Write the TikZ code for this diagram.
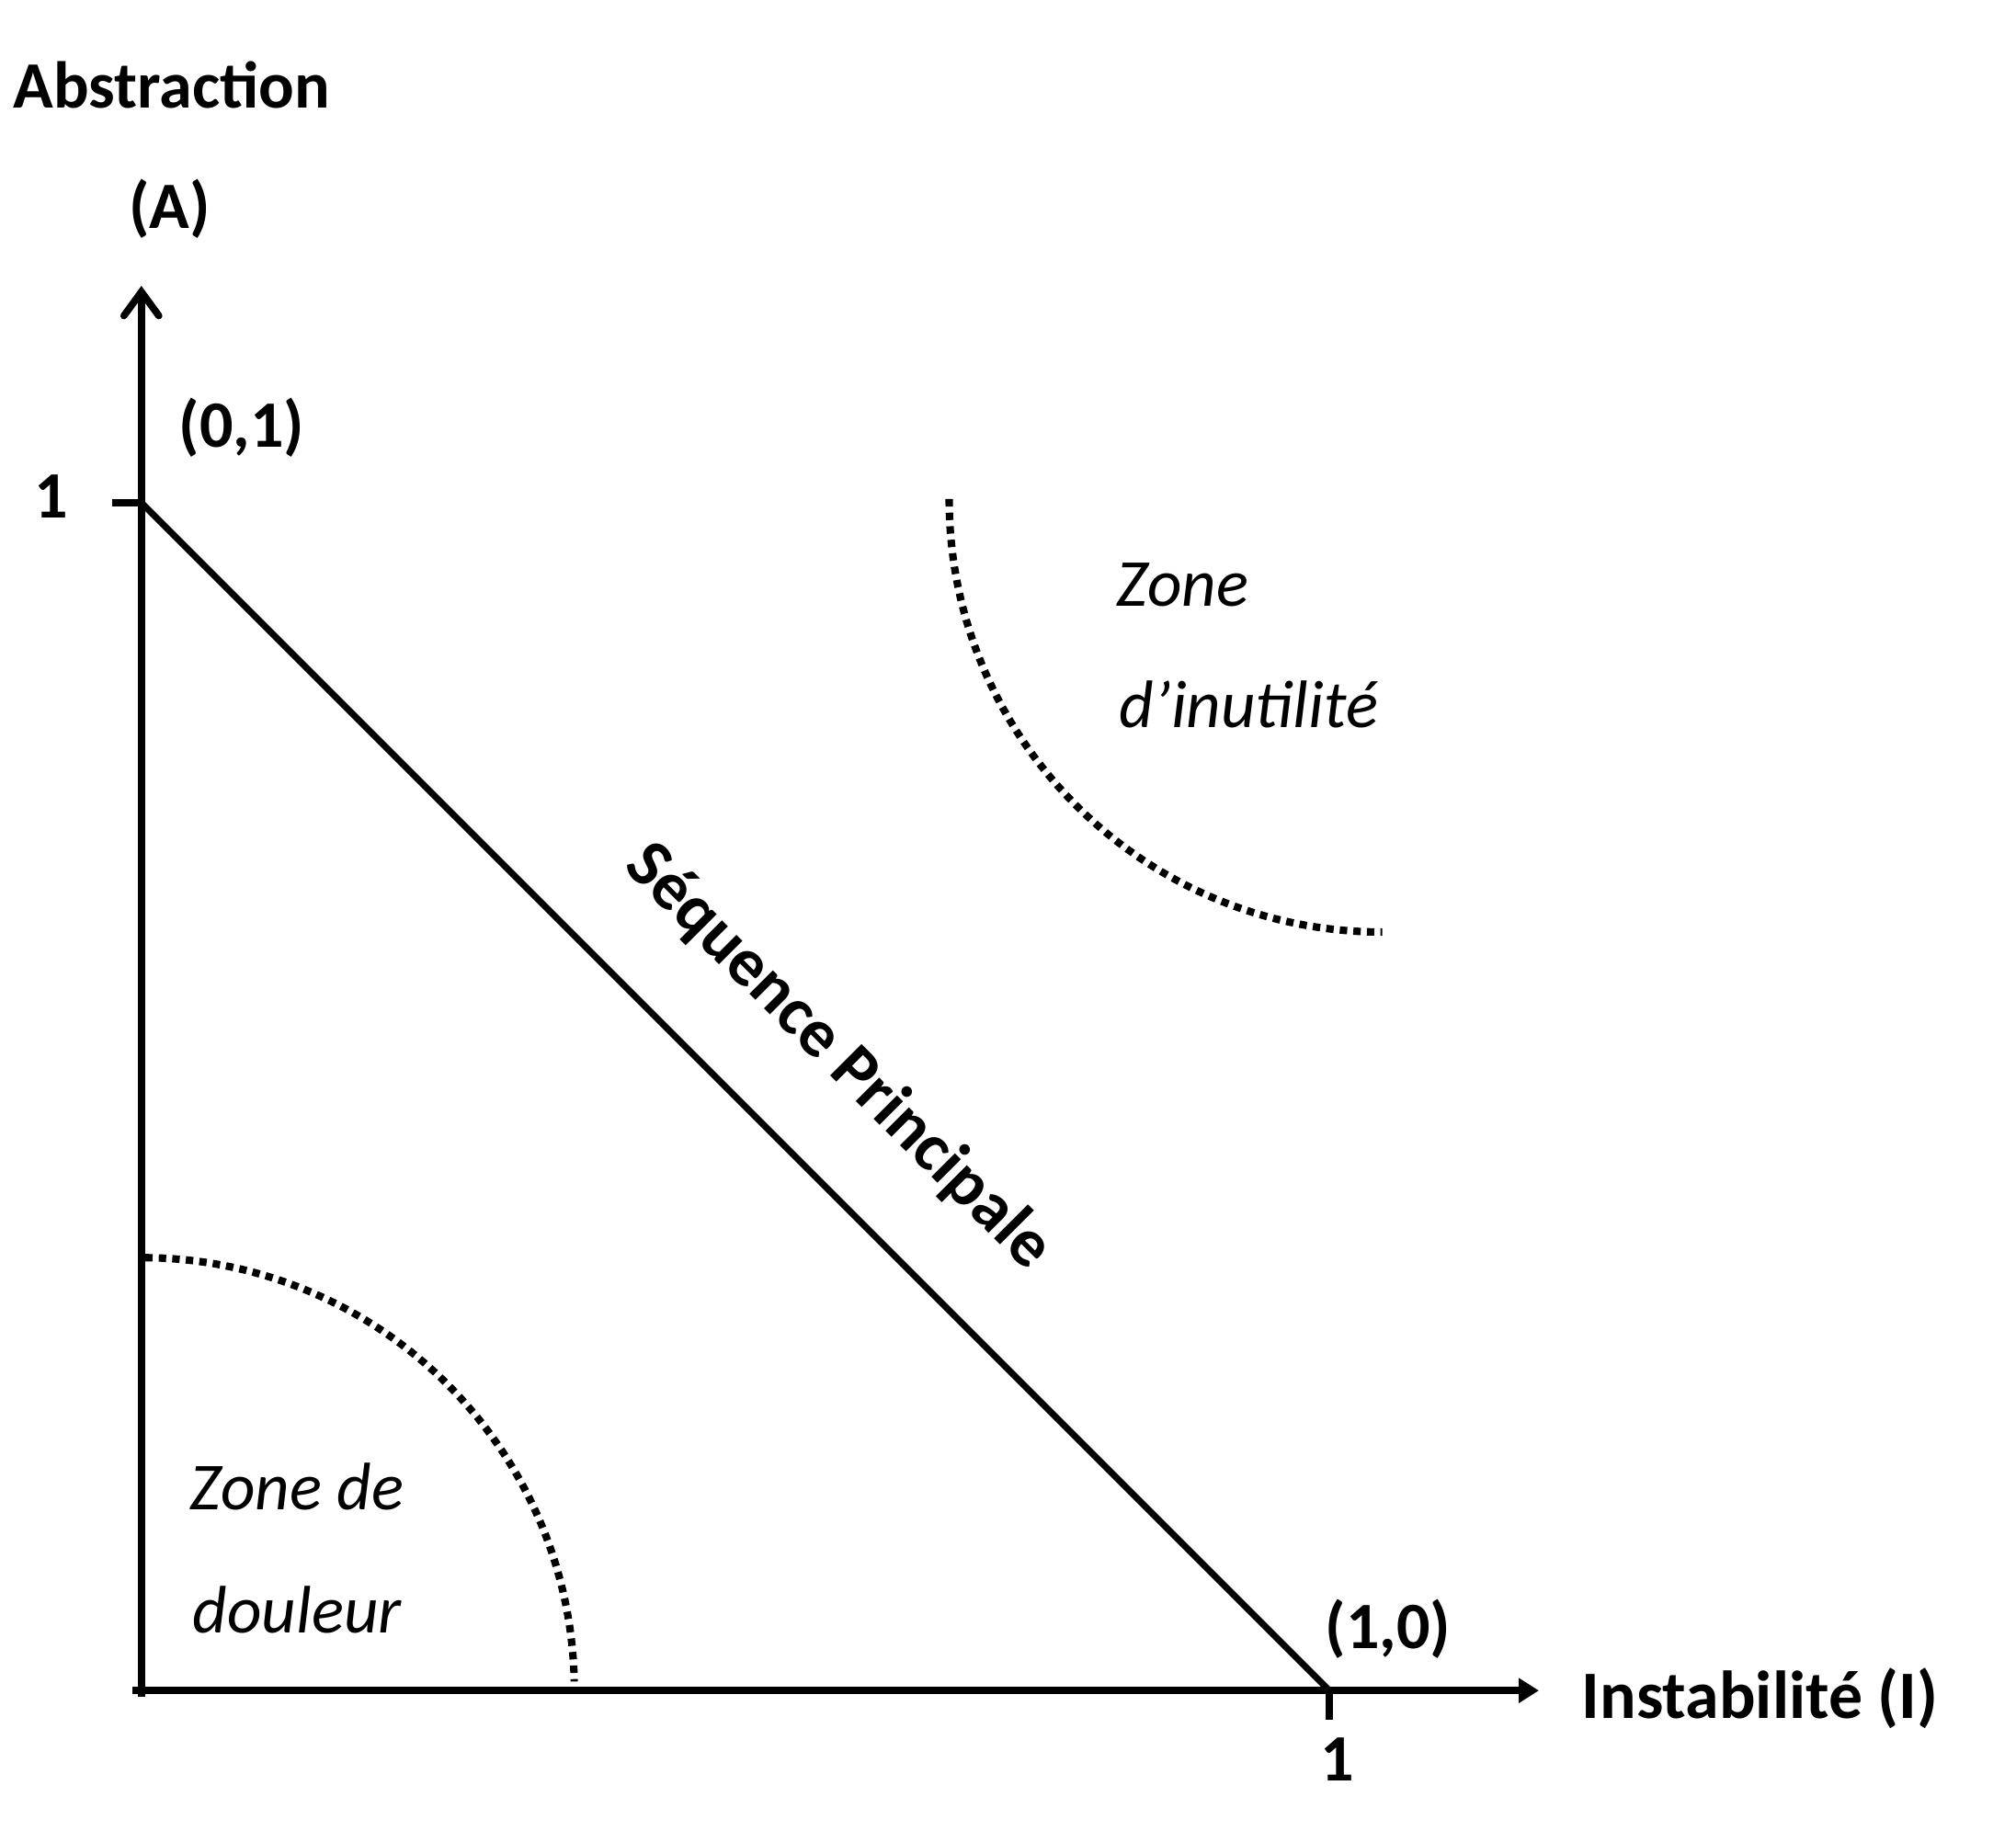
\documentclass[tikz,border=0pt]{standalone}
\usepackage{fontspec}
\setmainfont{Carlito}
\usetikzlibrary{arrows.meta}
\tikzset{
  every picture/.style={line width=2.2pt},
  axis/.style={line width=2.2pt},
  yarrow/.style={-{Straight Barb[length=2.6mm, width=3.8mm, line cap=round]}},
  xarrow/.style={-{Triangle[length=2.2mm, width=2.6mm]}},
  seq/.style={line width=2pt},
  lbl/.style={font=\fontsize{20.5}{24}\selectfont\bfseries, inner sep=0pt},
  zone/.style={font=\fontsize{20.8}{24}\selectfont\itshape, inner sep=0pt, anchor=base west},
  border/.style={line width=2.3pt, dash pattern=on 2.3pt off 1.9pt},
}
\begin{document}
\begin{tikzpicture}[x=1cm, y=1cm]
  \useasboundingbox (0,0) rectangle (21.93,19.91);
  % axes
  \coordinate (O) at (1.538,1.518);
  \coordinate (ytop) at (1.538,16.80);
  \coordinate (xend) at (16.74,1.518);
  \coordinate (ystart) at (1.538,1.45);
  \coordinate (xstart) at (1.44,1.518);
  \coordinate (A1) at (1.538,14.44);
  \coordinate (I1) at (14.46,1.518);
  \coordinate (ytick) at (1.217,14.44);
  \coordinate (xtick) at (14.46,1.197);
  \draw[axis, yarrow] (ystart) -- (ytop);
  \draw[axis, xarrow] (xstart) -- (xend);
  \draw[axis] (ytick) -- (A1);
  \draw[axis] (I1) -- (xtick);
  % main sequence
  \draw[seq] (A1) -- (I1);
  \node[lbl, font=\fontsize{21.2}{24}\selectfont\bfseries, rotate=-45] (seqlbl) at (9.12,8.41) {Séquence Principale};
  % zones
  \draw[border] (O) ++(89.5:4.71) arc (89.5:1.2:4.71);
  \coordinate (C11) at (15.035,14.48);
  \draw[border] (C11) ++(180:4.71) arc (180:270:4.71);
  \node[zone] (z1a) at (12.11,13.31) {Zone};
  \node[zone] (z1b) at (12.14,11.99) {d’inutilité};
  \node[zone] (z2a) at (2.03,3.48) {Zone de};
  \node[zone] (z2b) at (2.06,2.15) {douleur};
  % labels
  \node[lbl, anchor=base west] (abs) at (0.11,18.735) {Abstraction};
  \node[lbl, anchor=base] (alab) at (1.846,17.42) {(A)};
  \node[lbl, anchor=base] (p01) at (2.63,15.04) {(0,1)};
  \node[lbl, anchor=base] (one1) at (0.56,14.27) {1};
  \node[lbl, anchor=base] (p10) at (15.10,1.97) {(1,0)};
  \node[lbl, anchor=base] (one2) at (14.55,0.54) {1};
  \node[lbl, font=\fontsize{21}{24}\selectfont\bfseries, anchor=base west] (inst) at (17.17,1.21) {Instabilité (I)};
\end{tikzpicture}
\end{document}
